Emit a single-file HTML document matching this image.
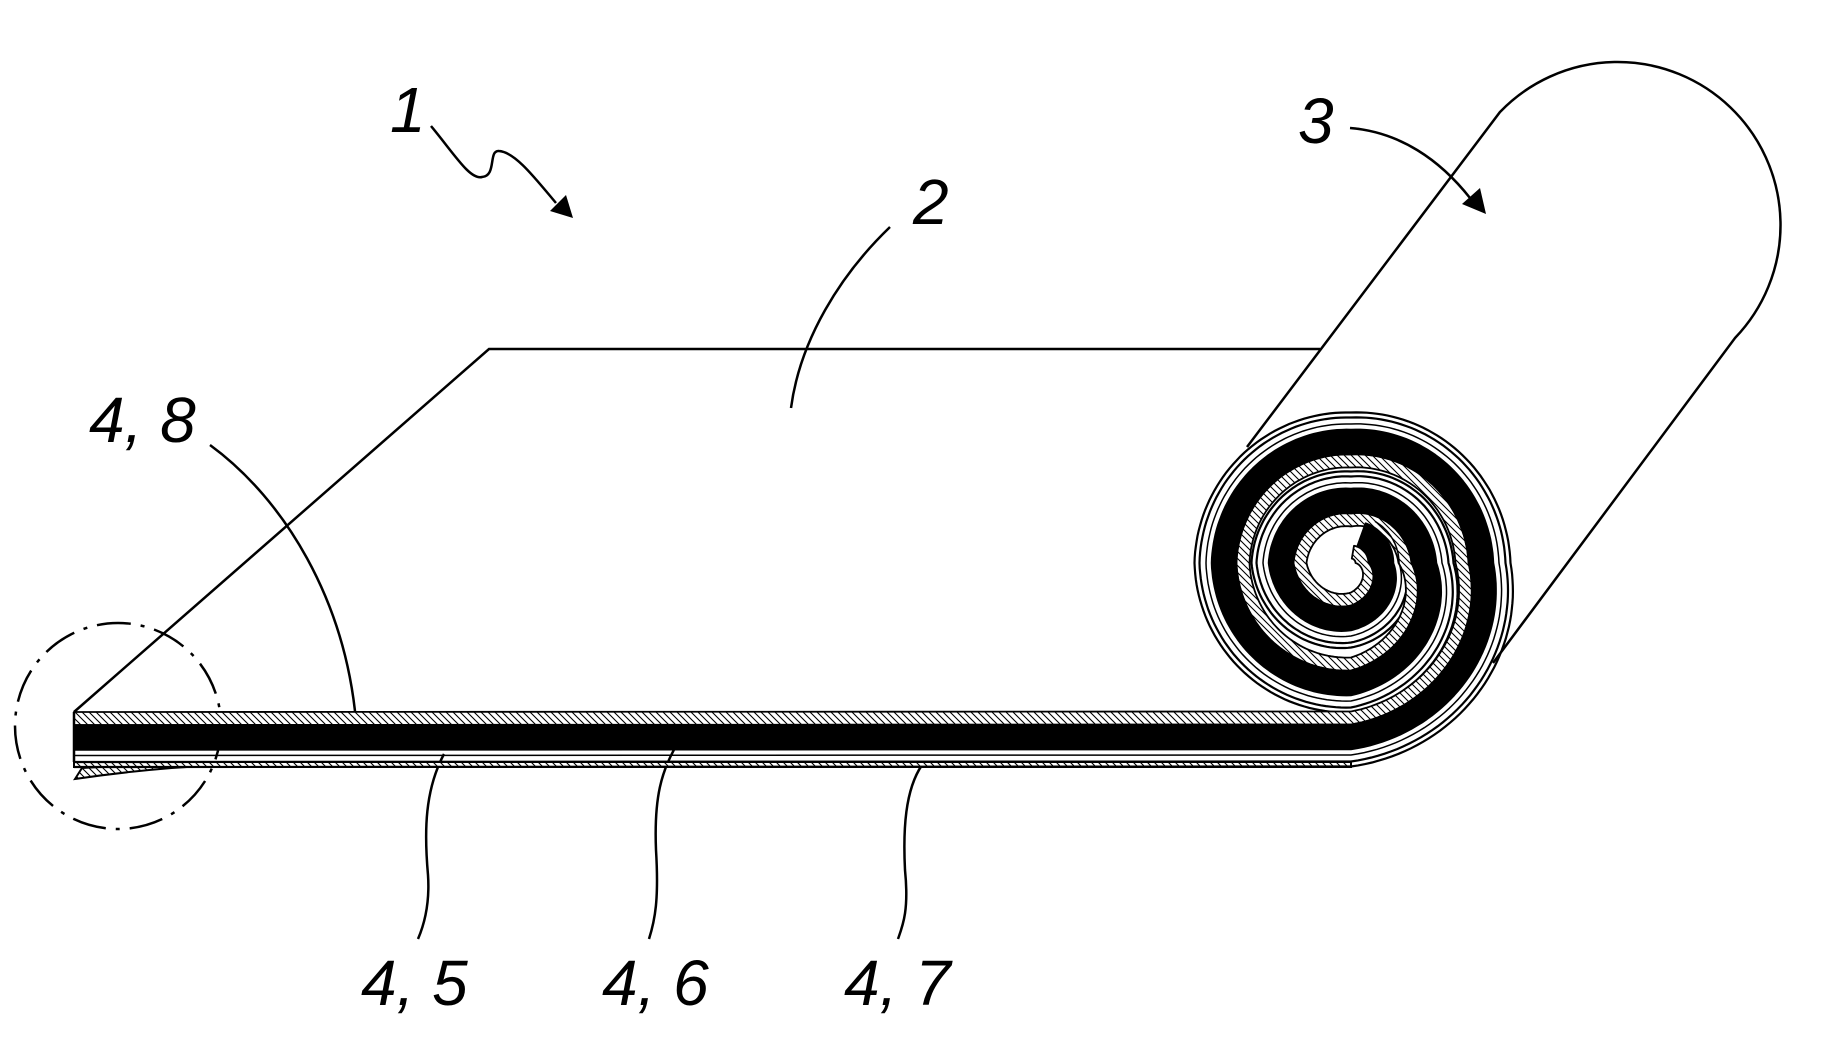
<!DOCTYPE html>
<html><head><meta charset="utf-8"><style>
html,body{margin:0;padding:0;background:#fff;}
svg{display:block;}
text{font-family:"Liberation Sans",sans-serif;font-style:italic;font-size:64px;fill:#000;}
</style></head><body>
<svg id="s" width="1837" height="1049" viewBox="0 0 1837 1049" xmlns="http://www.w3.org/2000/svg">
<defs>
<pattern id="h" width="7" height="7" patternUnits="userSpaceOnUse">
<rect width="7" height="7" fill="#fff"/>
<path d="M-1,-1 L8,8 M-4,3 L4,11 M3,-4 L11,4" stroke="#000" stroke-width="1.1"/>
</pattern>
</defs>
<g fill="none" stroke="#000" stroke-width="2.5">
<path d="M74,712 L489,349 L1320,349"/>
<path d="M1247,447 L1500,112 A163 163 0 0 1 1735,338 L1493,663"/>
<circle cx="118" cy="726" r="103" stroke-width="2.5" stroke-dasharray="34,10,4,10"/>
<path d="M431,126 C455,155 470,180 482,177 C497,176 488,150 499,151 C515,152 535,178 556,203" stroke-width="2.5"/>
<path d="M890,227 C840,275 800,340 791,408"/>
<path d="M1350,128 C1400,132 1440,160 1470,198"/>
<path d="M210,445 C285,500 345,600 356,721"/>
<path d="M444,754 C425,790 424,830 428,875 C430,905 424,925 418,939"/>
<path d="M681,738 C660,770 654,800 656,850 C659,900 655,920 649,939"/>
<path d="M922,765 C905,790 903,830 905,870 C909,910 903,925 898,939"/>
</g>
<polygon points="573,218 550,211 566,195" fill="#000"/>
<polygon points="1486,214 1462,204 1480,188" fill="#000"/>
<path d="M75,779 L82,768 Q150,764 222,762 L222,765 Q150,768 75,779 Z" fill="url(#h)" stroke="#000" stroke-width="2"/>
<g id="roll"></g>
<line x1="74" y1="712" x2="74" y2="762" stroke="#000" stroke-width="2.5"/>
<text x="390" y="132">1</text>
<text x="913" y="224">2</text>
<text x="1298" y="143">3</text>
<text x="89" y="442">4, 8</text>
<text x="361" y="1005">4, 5</text>
<text x="602" y="1005">4, 6</text>
<text x="844" y="1005">4, 7</text>
</svg>
<script>
(function(){
var Cx=1351,Cy=563,fy=737.5;
var S=[[-90,174],[0,130],[90,121],[180,127],[270,120],[360,73],[450,62],[540,70],[630,55],[720,30],[810,30],[830,30]];
function rb(t){for(var i=0;i<S.length-1;i++){if(t<=S[i+1][0]){var a=S[i],b=S[i+1];return a[1]+(b[1]-a[1])*(t-a[0])/(b[0]-a[0]);}}return S[S.length-1][1];}
function curve(o,tEnd){var p=[[74,fy+o]];for(var t=-90;t<=tEnd;t+=2){var r=Math.max(rb(t)+o,1),a=t*Math.PI/180;p.push([Cx+r*Math.cos(a),Cy-r*Math.sin(a)]);}return p;}
function ps(p){return p.map(function(q){return q[0].toFixed(1)+","+q[1].toFixed(1)}).join(" ");}
var g=document.getElementById("roll"),NS="http://www.w3.org/2000/svg";
function add(tag,attrs){var e=document.createElementNS(NS,tag);for(var k in attrs)e.setAttribute(k,attrs[k]);g.appendChild(e);}
function band(o1,o2,tEnd,fill,sw){var a=curve(o1,tEnd),b=curve(o2,tEnd).reverse();add("polygon",{points:ps(a.concat(b)),fill:fill,stroke:"#000","stroke-width":sw,"stroke-linejoin":"round"});}
band(24.5,29.5,-90,"url(#h)",2);
var flatEnd=[[74,fy+24.5],[1351,fy+24.5],[1351,fy+29.5],[74,fy+29.5]];
add("polygon",{points:ps(flatEnd),fill:"url(#h)",stroke:"#000","stroke-width":2});
add("polyline",{points:ps(curve(24.5,790)),fill:"none",stroke:"#000","stroke-width":2.2});
add("polyline",{points:ps(curve(29.5,790)),fill:"none",stroke:"#000","stroke-width":2.2});
band(-25.5,-12.5,800,"url(#h)",1.8);
band(-12.5,12.5,790,"#000",1.5);
add("polyline",{points:ps(curve(18,780)),fill:"none",stroke:"#000","stroke-width":1.5});
})();
</script>
</body></html>
